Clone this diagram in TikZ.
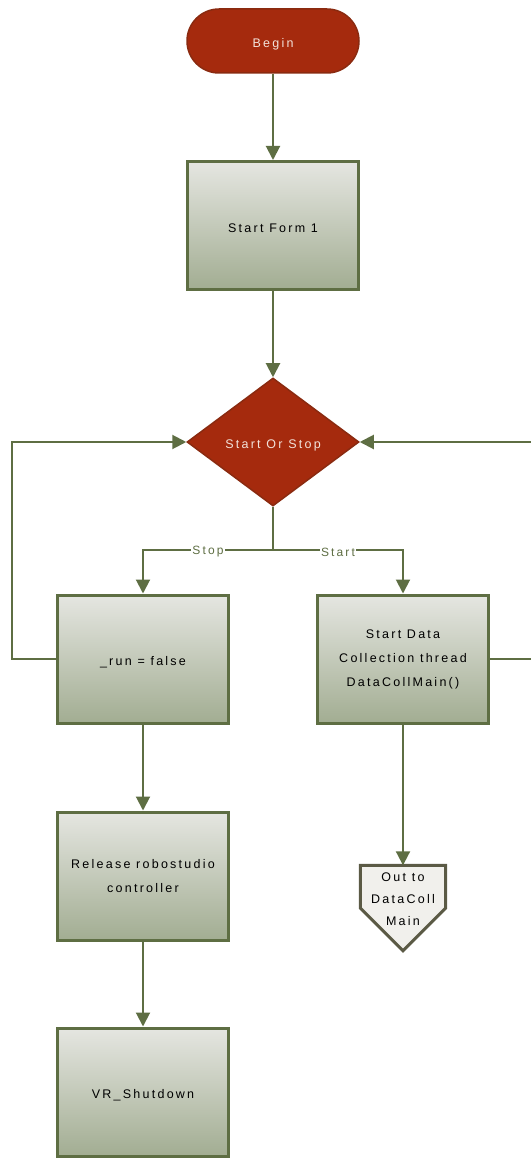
\documentclass[tikz,border=0pt]{standalone}
\usepackage{fontspec}
\setmainfont{Liberation Sans}[LetterSpace=18]
\usepackage{tikz}
\usetikzlibrary{shapes.geometric, arrows.meta, positioning, calc}
\usepackage{xcolor}

\definecolor{flowred}{HTML}{A52A0D}
\definecolor{flowredline}{HTML}{8A2A10}
\definecolor{flowgreen}{HTML}{5E6E43}
\definecolor{boxtop}{HTML}{E5E6E1}
\definecolor{boxbottom}{HTML}{A2AD92}
\definecolor{redtext}{HTML}{F2E2DA}
\definecolor{offfill}{HTML}{F1F0EC}
\definecolor{offline}{HTML}{5B5A45}

\begin{document}
\begin{tikzpicture}[x=1pt, y=-1pt,
  every node/.style={font=\fontsize{12.5}{24}\selectfont, align=center},
  lowtext/.style={execute at begin node={\rule{0pt}{15pt}}},
  terminal/.style={lowtext, draw=flowredline, line width=1.5pt, fill=flowred, text=redtext, rounded corners=32pt, minimum width=172, minimum height=64},
  decision/.style={lowtext, draw=flowredline, line width=1.5pt, fill=flowred, text=redtext, diamond, inner sep=0pt, minimum width=172, minimum height=128},
  process/.style={lowtext, draw=flowgreen, line width=3pt, top color=boxtop, bottom color=boxbottom, minimum width=171, minimum height=128},
  offpage/.style={draw=offline, line width=3pt, fill=offfill},
  flow/.style={draw=flowgreen, line width=2pt, -{Triangle[length=14pt, width=14pt]}},
  branch/.style={fill=white, text=flowgreen, inner sep=1pt, yshift=-2pt, font=\fontsize{12}{12}\selectfont}]
  \useasboundingbox (0,0) rectangle (530,1158);

  \node[terminal] (begin) at (273, 41) {Begin};
  \node[process] (form) at (273, 225.5) {Start Form 1};
  \node[decision] (choice) at (273, 442) {Start Or Stop};
  \node[process] (run) at (143, 659) {\_run = false};
  \node[process] (data) at (403, 659) {Start Data\\Collection thread\\DataCollMain()};
  \node[process] (release) at (143, 876) {Release robostudio\\controller};
  \node[process] (shut) at (143, 1092) {VR\_Shutdown};
  \node[minimum width=85, minimum height=85, inner sep=0pt] (out) at (403, 908) {};
  \draw[offpage] (out.north west) -- (out.north east) -- (out.east) -- (out.south) -- (out.west) -- cycle;
  \node[font=\fontsize{12.5}{22}\selectfont] (outtxt) at (403, 899) {Out to\\DataColl\\Main};

  \coordinate (split) at (273, 550);
  \coordinate (loopL) at (12, 659);
  \coordinate (loopR) at (534, 659);

  \draw[flow] (begin) -- (form);
  \draw[flow] (form) -- (choice);
  \draw[draw=flowgreen, line width=2pt] (choice) -- (split);
  \draw[flow] (split) -| node[branch, pos=0.25] {Stop} (run);
  \draw[flow] (split) -| node[branch, pos=0.25] {Start} (data);
  \draw[flow] (run) -- (release);
  \draw[flow] (release) -- (shut);
  \draw[flow] (data) -- (out);
  \draw[flow] (run) -- (loopL) |- (choice);
  \draw[flow] (data) -- (loopR) |- (choice);
\end{tikzpicture}
\end{document}
